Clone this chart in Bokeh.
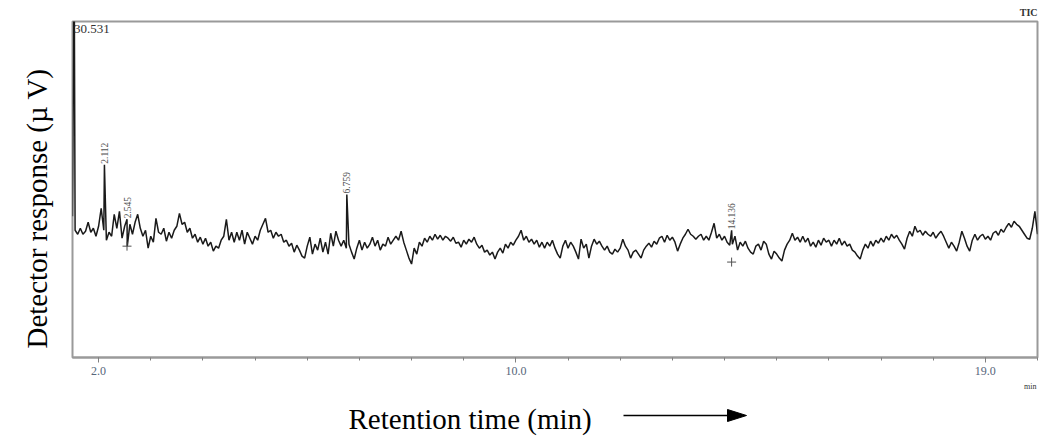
import numpy as np
from bokeh.plotting import figure
from bokeh.layouts import column
from bokeh.models import Range1d, FixedTicker, Label, Title
from bokeh.embed import file_html
from bokeh.resources import INLINE
from bokeh.core.properties import value

# Total ion current trace, sampled every 0.05 min starting at 1.50 min (µV)
sample_start_min = 1.50
sample_step_min = 0.05
signal_uv = [
    142, 128, 124, 130, 124, 127, 136, 126, 130, 122,
    132, 150, 128, 118, 126, 122, 144, 130, 147, 120,
    132, 112, 134, 124, 136, 144, 130, 122, 128, 110,
    122, 116, 140, 126, 124, 130, 117, 126, 120, 128,
    132, 145, 134, 136, 126, 130, 120, 124, 116, 121,
    114, 120, 112, 116, 107, 112, 110, 118, 122, 139,
    118, 126, 116, 126, 118, 128, 114, 126, 120, 114,
    122, 118, 128, 134, 140, 126, 128, 120, 126, 122,
    124, 116, 118, 112, 115, 106, 113, 108, 102, 100,
    112, 121, 104, 114, 108, 120, 106, 116, 104, 125,
    112, 127, 118, 112, 118, 110, 114, 106, 99, 110,
    118, 108, 116, 110, 114, 121, 112, 118, 108, 114,
    112, 121, 114, 118, 122, 118, 127, 116, 108, 100,
    94, 110, 104, 116, 112, 120, 116, 122, 118, 124,
    119, 123, 118, 122, 120, 117, 121, 115, 116, 111,
    118, 114, 119, 116, 121, 114, 110, 113, 106, 108,
    103, 106, 99, 106, 110, 105, 114, 110, 116, 113,
    118, 122, 128, 118, 122, 116, 119, 114, 118, 111,
    116, 110, 116, 112, 118, 110, 104, 100, 112, 118,
    110, 116, 112, 106, 99, 119, 110, 114, 100, 112,
    119, 114, 117, 112, 108, 112, 106, 104, 109, 106,
    110, 119, 112, 108, 100, 106, 108, 104, 100, 108,
    112, 115, 111, 117, 114, 120, 122, 116, 123, 118,
    121, 116, 107, 114, 120, 124, 129, 124, 122, 119,
    122, 124, 118, 122, 118, 126, 135, 120, 124, 118,
    122, 116, 113, 114, 122, 108, 116, 112, 117, 110,
    106, 104, 112, 114, 108, 117, 114, 104, 99, 107,
    104, 100, 97, 108, 114, 118, 125, 118, 121, 116,
    122, 116, 120, 112, 116, 111, 118, 113, 120, 116,
    118, 112, 118, 114, 120, 113, 117, 112, 114, 108,
    106, 102, 99, 108, 114, 110, 117, 112, 118, 115,
    120, 116, 122, 118, 124, 120, 123, 118, 114, 109,
    120, 127, 122, 132, 126, 128, 123, 127, 124, 122,
    126, 120, 124, 127, 122, 116, 110, 116, 112, 107,
    116, 127, 120, 112, 107, 118, 124, 118, 122, 124,
    119, 122, 118, 125, 127, 123, 129, 126, 131, 135,
    131, 137, 134, 132, 128, 124, 120, 119, 130, 147, 124,
]

# Integrated peaks: retention time (min) and apex response (µV)
peak_times = [1.531, 2.112, 2.545, 6.759, 14.136]
peak_heights = [420, 194, 139, 164, 128]
peak_labels = ["1.531", "2.112", "2.545", "6.759", "14.136"]

# Baseline event marks
mark_times = [2.545, 14.136]
mark_levels = [112, 96]

tick_values = [2.0, 10.0, 19.0]
tick_labels = ["2.0", "10.0", "19.0"]
minor_tick_values = list(range(2, 21))

SERIF = "Liberation Serif"

# merge sampled trace with the peak apexes
sample_times = sample_start_min + sample_step_min * np.arange(len(signal_uv))
all_t = np.concatenate([sample_times, np.array(peak_times)])
all_v = np.concatenate([np.array(signal_uv, dtype=float), np.array(peak_heights, dtype=float)])
order = np.argsort(all_t)
trace_t = all_t[order]
trace_v = all_v[order]

p = figure(
    width=1043, height=380,
    x_range=Range1d(1.5, 20.0), y_range=Range1d(0, 338),
    output_backend="svg", toolbar_location=None,
    y_axis_location=None,
    title="TIC", title_location="above",
    min_border_left=72, min_border_right=6, min_border_top=19, min_border_bottom=23,
    background_fill_color="white", border_fill_color="white",
)
p.title.align = "right"
p.title.text_font = SERIF
p.title.text_font_size = "10px"
p.title.text_font_style = "bold"
p.title.text_color = "#333333"
p.title.standoff = 8

p.xgrid.visible = False
p.ygrid.visible = False
p.outline_line_color = "#9a9a9a"
p.outline_line_width = 2

ax = p.xaxis[0]
ax.ticker = FixedTicker(ticks=tick_values, minor_ticks=minor_tick_values)
ax.major_label_overrides = {v: s for v, s in zip(tick_values, tick_labels)}
ax.axis_line_color = "#9a9a9a"
ax.axis_line_width = 2
ax.major_tick_line_color = "#808080"
ax.minor_tick_line_color = "#808080"
ax.major_tick_in = 0
ax.major_tick_out = 5
ax.minor_tick_in = 0
ax.minor_tick_out = 3
ax.major_label_standoff = 4
ax.major_label_text_font = SERIF
ax.major_label_text_font_size = "12px"
ax.major_label_text_color = "#56657a"

# vertical axis title, started just above the bottom of the frame
p.add_layout(Title(text="Detector response (µ V)", align="left", offset=9,
                   vertical_align="top", standoff=36,
                   text_font=SERIF, text_font_size="29px",
                   text_font_style="normal", text_color="black"), "left")

p.line(trace_t, trace_v, line_color="#1a1a1a", line_width=1.5)

p.text(
    x=peak_times[1:], y=peak_heights[1:], text=peak_labels[1:],
    angle=np.pi / 2, text_align="left", text_baseline="middle",
    text_font=value(SERIF), text_font_size="9.5px",
    text_color="#505050", y_offset=-1,
)
p.scatter(mark_times, mark_levels, marker="cross", size=9,
          line_color="#505050", line_width=1)

# off-scale main peak: its label sits along the top edge
p.add_layout(Label(x=peak_times[0], y=330, text="30.531", text_align="left",
                   text_baseline="middle", text_font=SERIF,
                   text_font_size="13px", text_color="#303030"))

# caption strip under the chart: time-unit tag, axis title and direction arrow
cap = figure(
    width=1043, height=61,
    x_range=Range1d(72, 1037), y_range=Range1d(441, 380),
    output_backend="svg", toolbar_location=None,
    min_border=0, background_fill_color="white", border_fill_color="white",
)
cap.axis.visible = False
cap.grid.visible = False
cap.outline_line_color = None

cap.text(x=[1036], y=[386], text=["min"], text_align="right",
         text_baseline="alphabetic", text_font=value(SERIF),
         text_font_size="8px", text_color="#333333")
cap.text(x=[348], y=[418], text=["Retention time (min)"], text_align="left",
         text_baseline="alphabetic", text_font=value(SERIF),
         text_font_size="29px", text_color="black")
cap.segment(x0=[623], y0=[415], x1=[730], y1=[415], line_color="black", line_width=1.5)
cap.patch(x=[727, 746, 727], y=[409, 415, 421], fill_color="black", line_color="black")

layout = column(p, cap, spacing=0)

open("out.html", "w").write(file_html(layout, INLINE))
